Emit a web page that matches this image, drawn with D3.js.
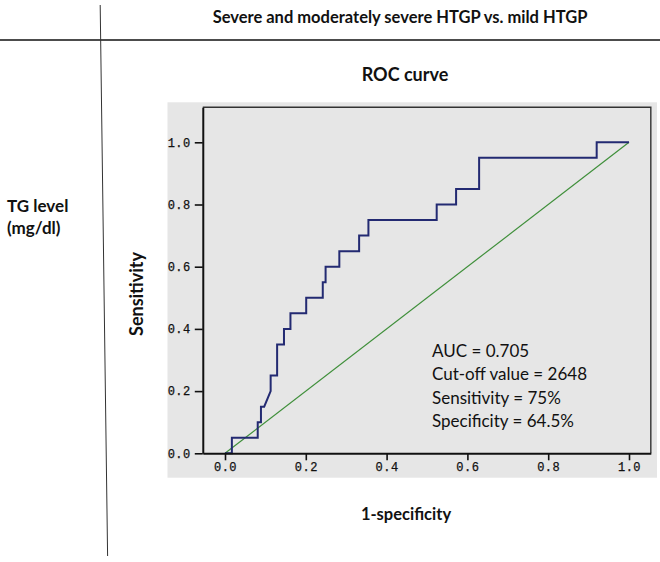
<!DOCTYPE html>
<html>
<head>
<meta charset="utf-8">
<script src="https://cdn.jsdelivr.net/npm/d3@7"></script>
<style>
  html, body { margin: 0; padding: 0; background: #fff; }
  svg { display: block; }
</style>
</head>
<body>
<div id="chart"></div>
<script>
// ---- data ----
const rocFpr = [0, 0.017, 0.017, 0.081, 0.081, 0.089, 0.089, 0.097, 0.113, 0.113, 0.129, 0.129, 0.146, 0.146, 0.162, 0.162, 0.201, 0.201, 0.242, 0.242, 0.249, 0.249, 0.283, 0.283, 0.332, 0.332, 0.355, 0.355, 0.524, 0.524, 0.572, 0.572, 0.629, 0.629, 0.920, 0.920, 1.0];
const rocTpr = [0, 0, 0.05, 0.05, 0.10, 0.10, 0.15, 0.15, 0.20, 0.25, 0.25, 0.35, 0.35, 0.40, 0.40, 0.45, 0.45, 0.50, 0.50, 0.55, 0.55, 0.60, 0.60, 0.65, 0.65, 0.70, 0.70, 0.75, 0.75, 0.80, 0.80, 0.85, 0.85, 0.95, 0.95, 1.0, 1.0];
const refFpr = [0, 1];
const refTpr = [0, 1];
const xTicks = [0, 0.2, 0.4, 0.6, 0.8, 1.0];
const yTicks = [0, 0.2, 0.4, 0.6, 0.8, 1.0];
const statLines = ["AUC = 0.705", "Cut-off value = 2648", "Sensitivity = 75%", "Specificity = 64.5%"];
const headerText = "Severe and moderately severe HTGP vs. mild HTGP";
const rowLabel = ["TG level", "(mg/dl)"];
const chartTitle = "ROC curve";
const xLabel = "1-specificity";
const yLabel = "Sensitivity";

// ---- layout ----
const W = 660, H = 562;
const svg = d3.select("#chart").append("svg").attr("width", W).attr("height", H);
const titleFont = "Lato, 'Open Sans', sans-serif";
const tickFont = "'Liberation Mono', 'DejaVu Sans Mono', monospace";

const x = d3.scaleLinear().domain([0, 1]).range([225, 629]);
const y = d3.scaleLinear().domain([0, 1]).range([453.3, 142.3]);
const xMin = -0.055, xMax = 1.054, yMax = 1.1125;

// table lines
svg.append("line").attr("x1", 0).attr("x2", W).attr("y1", 40).attr("y2", 40)
  .attr("stroke", "#111").attr("stroke-width", 1.3);
svg.append("line").attr("x1", 100.2).attr("y1", 5).attr("x2", 107.6).attr("y2", 556)
  .attr("stroke", "#333").attr("stroke-width", 1);

// header
svg.append("text").attr("x", 400).attr("y", 23).attr("text-anchor", "middle")
  .attr("font-family", titleFont).attr("font-weight", 700).attr("font-size", 16.5)
  .attr("fill", "#111").text(headerText);

svg.append("text").attr("x", 405).attr("y", 81).attr("text-anchor", "middle")
  .attr("font-family", titleFont).attr("font-weight", 700).attr("font-size", 18)
  .attr("fill", "#111").text(chartTitle);

rowLabel.forEach((t, i) => {
  svg.append("text").attr("x", 7).attr("y", 212 + i * 22)
    .attr("font-family", titleFont).attr("font-weight", 700).attr("font-size", 17)
    .attr("fill", "#111").text(t);
});

// gray panel
svg.append("rect").attr("x", 167.5).attr("y", 102.3).attr("width", 657 - 167.5).attr("height", 477.7 - 102.3)
  .attr("fill", "#e6e6e6");

// frame top/right
svg.append("path")
  .attr("d", `M${x(xMin)},${y(yMax)}H${x(xMax)}V${y(0)}`)
  .attr("fill", "none").attr("stroke", "#333").attr("stroke-width", 1.4);

// reference diagonal
const lineGen = d3.line().x(d => x(d[0])).y(d => y(d[1]));
svg.append("path").datum(refFpr.map((v, i) => [v, refTpr[i]]))
  .attr("d", lineGen).attr("fill", "none").attr("stroke", "#3f8f3a").attr("stroke-width", 1.2);

// ROC curve
svg.append("path").datum(rocFpr.map((v, i) => [v, rocTpr[i]]))
  .attr("d", lineGen).attr("fill", "none").attr("stroke", "#232a72").attr("stroke-width", 2)
  .attr("stroke-linejoin", "miter");

// axes
const fmt = d3.format(".1f");
const xAxisScale = x.copy().domain([xMin, xMax]).range([x(xMin), x(xMax)]);
const yAxisScale = y.copy().domain([0, yMax]).range([y(0), y(yMax)]);

const gx = svg.append("g").attr("transform", `translate(0,${y(0)})`)
  .call(d3.axisBottom(xAxisScale).tickValues(xTicks).tickFormat(fmt).tickSize(7).tickSizeOuter(0));
const gy = svg.append("g").attr("transform", `translate(${x(xMin)},0)`)
  .call(d3.axisLeft(yAxisScale).tickValues(yTicks).tickFormat(fmt).tickSize(8).tickSizeOuter(0));

[gx, gy].forEach(g => {
  g.select(".domain").attr("stroke", "#111").attr("stroke-width", 2);
  g.selectAll(".tick line").attr("stroke", "#111").attr("stroke-width", 1.6);
  g.selectAll(".tick text").attr("font-family", tickFont).attr("font-size", 12)
    .attr("fill", "#111").attr("stroke", "#111").attr("stroke-width", 0.25).attr("letter-spacing", 0.5);
});
gx.selectAll(".tick text").attr("dy", "0.71em").attr("y", 9);
gy.selectAll(".tick text").attr("x", -12);

// axis titles
svg.append("text").attr("x", 406).attr("y", 520).attr("text-anchor", "middle")
  .attr("font-family", titleFont).attr("font-weight", 700).attr("font-size", 16.5)
  .attr("fill", "#111").text(xLabel);
svg.append("text").attr("transform", "translate(143,294) rotate(-90)").attr("text-anchor", "middle")
  .attr("font-family", titleFont).attr("font-weight", 700).attr("font-size", 18)
  .attr("fill", "#111").text(yLabel);

// stats annotation
statLines.forEach((t, i) => {
  svg.append("text").attr("x", 432).attr("y", 357 + i * 23.3)
    .attr("font-family", titleFont).attr("font-size", 17)
    .attr("fill", "#111").text(t);
});
</script>
</body>
</html>
